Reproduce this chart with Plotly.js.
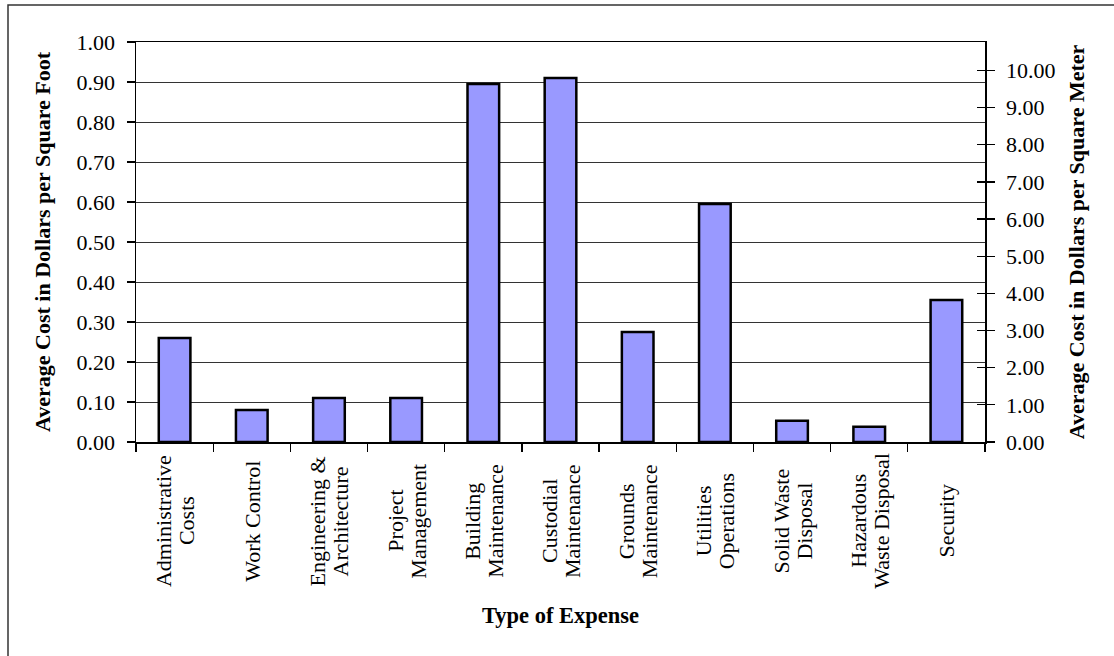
<!DOCTYPE html>
<html>
<head>
<meta charset="utf-8">
<script src="https://cdn.plot.ly/plotly-3.0.1.min.js"></script>
<style>
  html, body { margin: 0; padding: 0; background: #fff; }
  #chart { width: 1114px; height: 656px; }
</style>
</head>
<body>
<div id="chart"></div>
<script>
// Expense categories (line breaks as shown under each bar)
const categories = [
  "Administrative<br>Costs",
  "Work Control",
  "Engineering &<br>Architecture",
  "Project<br>Management",
  "Building<br>Maintenance",
  "Custodial<br>Maintenance",
  "Grounds<br>Maintenance",
  "Utilities<br>Operations",
  "Solid Waste<br>Disposal",
  "Hazardous<br>Waste Disposal",
  "Security"
];

// Average cost, dollars per square foot
const costPerSqFt = [0.26, 0.08, 0.11, 0.11, 0.895, 0.91, 0.275, 0.595, 0.053, 0.038, 0.355];

// Left axis tick values
const leftTicks = [0, 0.1, 0.2, 0.3, 0.4, 0.5, 0.6, 0.7, 0.8, 0.9, 1.0];
// Right axis tick values (dollars per square meter)
const rightTicks = [0, 1, 2, 3, 4, 5, 6, 7, 8, 9, 10];

// square feet per square meter
const SQFT_PER_SQM = 10.7639;

const serif = "Liberation Serif, Times New Roman, serif";

// plot area in pixels
const L = 136, R = 129, T = 42, B = 214;
const W = 1114 - L - R, H = 656 - T - B;
const px2x = p => (p - L) / W;
const py2y = p => (656 - B - p) / H;

const costPerSqM = costPerSqFt.map(v => v * SQFT_PER_SQM);

const traces = [
  {
    type: "bar",
    x: categories,
    y: costPerSqFt,
    width: 0.41,
    marker: { color: "#9999FF", line: { color: "#000", width: 2.5 } },
    hoverinfo: "x+y",
    showlegend: false
  },
  {
    // same values in dollars per square meter, keeps the right axis in step
    type: "scatter", mode: "markers",
    x: categories, y: costPerSqM, yaxis: "y2",
    marker: { opacity: 0 }, hoverinfo: "skip", showlegend: false
  },
  {
    // carries the inner half of the right-hand tick marks
    type: "scatter", mode: "markers",
    x: categories, y: costPerSqM, yaxis: "y3",
    marker: { opacity: 0 }, hoverinfo: "skip", showlegend: false
  }
];

// category labels drawn vertically; each line centred on the same height
const LINE_STEP = 23;
const labelAnnotations = [];
categories.forEach(c => {
  const lines = c.split("<br>");
  lines.forEach((line, i) => {
    labelAnnotations.push({
      x: c, xref: "x",
      y: py2y(521), yref: "paper",
      xshift: (i - (lines.length - 1) / 2) * LINE_STEP,
      text: line,
      textangle: -90,
      showarrow: false,
      xanchor: "center", yanchor: "middle",
      font: { family: serif, size: 22, color: "#000" }
    });
  });
});

const axisCommon = {
  ticks: "outside",
  ticklen: 8,
  tickwidth: 1.3,
  tickcolor: "#000",
  showline: true,
  linecolor: "#000",
  linewidth: 1.5,
  zeroline: false
};

const layout = {
  width: 1114,
  height: 656,
  margin: { l: L, r: R, t: T, b: B, pad: 0 },
  paper_bgcolor: "#fff",
  plot_bgcolor: "#fff",
  font: { family: serif, size: 22, color: "#000" },
  showlegend: false,
  xaxis: Object.assign({}, axisCommon, {
    type: "category",
    range: [-0.5, categories.length - 0.5],
    showticklabels: false,
    tickson: "boundaries",
    mirror: true,
    showgrid: false,
    title: {
      text: "<b>Type of Expense</b>",
      font: { family: serif, size: 22.5, color: "#000" },
      standoff: 164
    }
  }),
  yaxis: Object.assign({}, axisCommon, {
    range: [0, 1.0],
    tickvals: leftTicks,
    tickformat: ".2f",
    ticklabelstandoff: 7,
    showgrid: true,
    gridcolor: "#333",
    gridwidth: 1,
    tickfont: { family: serif, size: 22, color: "#000" },
    title: {
      text: "<b>Average Cost in Dollars per Square Foot</b>",
      font: { family: serif, size: 22, color: "#000" },
      standoff: 20
    }
  }),
  yaxis2: Object.assign({}, axisCommon, {
    overlaying: "y",
    side: "right",
    range: [0, SQFT_PER_SQM],
    tickvals: rightTicks,
    tickformat: ".2f",
    ticklabelstandoff: 7,
    showgrid: false,
    tickfont: { family: serif, size: 22, color: "#000" },
    title: {
      text: "<b>Average Cost in Dollars per Square Meter</b>",
      font: { family: serif, size: 22, color: "#000" },
      standoff: 14
    }
  }),
  yaxis3: {
    overlaying: "y",
    side: "right",
    range: [0, SQFT_PER_SQM],
    tickvals: rightTicks,
    ticks: "inside",
    ticklen: 8,
    tickwidth: 1.3,
    tickcolor: "#000",
    showticklabels: false,
    showline: false,
    showgrid: false,
    zeroline: false
  },
  annotations: labelAnnotations,
  shapes: [
    {
      // chart frame
      type: "rect", xref: "paper", yref: "paper",
      x0: px2x(8), x1: px2x(1130),
      y0: py2y(680), y1: py2y(5),
      line: { color: "#333", width: 1.5 },
      fillcolor: "rgba(0,0,0,0)",
      layer: "below"
    }
  ]
};

Plotly.newPlot("chart", traces, layout, { displayModeBar: false, staticPlot: true });
</script>
</body>
</html>
